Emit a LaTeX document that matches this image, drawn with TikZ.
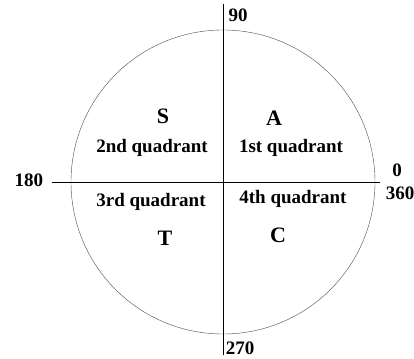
\documentclass[tikz,border=0pt]{standalone}
\usepackage{fontspec}
\setmainfont{Liberation Serif}
\begin{document}
\begin{tikzpicture}[x=1pt,y=1pt,
        quad/.style={font=\bfseries\fontsize{19}{22}\selectfont},
        letter/.style={font=\bfseries\fontsize{22}{26}\selectfont},
        deg/.style={font=\bfseries\fontsize{19}{22}\selectfont}]
        \useasboundingbox (-223,-176) rectangle (191,182);
        % Circle
        \draw[black!70] (0,0) coordinate (O) circle (152);

        % Axes
        \coordinate (W) at (-171,0);
        \coordinate (E) at (157,0);
        \coordinate (N) at (0,178);
        \coordinate (Sd) at (0,-173);
        \draw (W) -- (E);
        \draw (N) -- (Sd);

        % Angles
        \node[deg] (d180) at (-194,2) {180};
        \node[deg] (d0) at (174,12) {0};
        \node[deg] (d360) at (177,-11) {360};
        \node[deg] (d90) at (15,167) {90};
        \node[deg] (d270) at (17,-166) {270};

        % Quadrants
        \node[letter] (lS) at (-60,66) {S};
        \node[quad] (q2) at (-71,34) {2nd quadrant};
        \node[letter] (lA) at (51,64) {A};
        \node[quad] (q1) at (68,34) {1st quadrant};
        \node[quad] (q3) at (-72,-20) {3rd quadrant};
        \node[letter] (lT) at (-58,-56) {T};
        \node[quad] (q4) at (70,-17) {4th quadrant};
        \node[letter] (lC) at (55,-53) {C};
\end{tikzpicture}
\end{document}
